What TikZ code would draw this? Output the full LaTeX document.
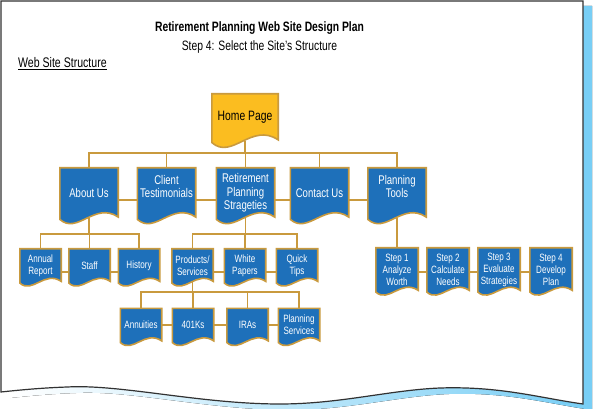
\documentclass[tikz,border=0pt]{standalone}
\usepackage{fontspec}
\setmainfont{Liberation Sans}[FakeStretch=0.76]
\usetikzlibrary{calc,backgrounds}

\definecolor{boxblue}{RGB}{30,112,186}
\definecolor{boxgold}{RGB}{201,154,62}
\definecolor{homeyellow}{RGB}{251,189,32}
\definecolor{shadeblue}{RGB}{120,206,245}
\definecolor{pageline}{RGB}{50,50,50}

\tikzset{
  link/.style={draw=boxgold, line width=1.6pt},
  box/.style={inner sep=1pt, align=center, text=white, font=\fontsize{10.6}{12}\selectfont},
  homebox/.style={box, text=black, minimum width=66pt, minimum height=47pt, font=\fontsize{13.6}{15}\selectfont},
  bigbox/.style={box, minimum width=58pt, minimum height=50pt, font=\fontsize{12.6}{13.5}\selectfont},
  smallbox/.style={box, minimum width=41pt, minimum height=33pt},
  stepbox/.style={box, minimum width=42pt, minimum height=43pt},
  raised/.style={text depth=13pt}
}

% wavy "document" outline round a node
\newcommand{\docshape}[2][boxblue]{%
  \path[draw=boxgold, line width=1.6pt, fill=#1]
    let \p1=(#2.south west), \p2=(#2.north east), \n1={\x2-\x1} in
    (\x1,\y2) -- (\x2,\y2) -- (\x2,\y1+0.02*\n1)
    .. controls (\x1+0.6*\n1,\y1+0.29*\n1) and (\x1+0.3*\n1,\y1-0.29*\n1) .. (\x1,\y1-0.02*\n1)
    -- cycle;}

\begin{document}
\begin{tikzpicture}[x=1pt,y=-1pt]
  \useasboundingbox (0,0) rectangle (595,409);

  \begin{pgfonlayer}{background}
    % page and its shadow
    \fill[left color=white, right color=shadeblue] (10,6) -- (592,6) -- (592,410)
      .. controls (549,404) and (509,392) .. (449,394)
      .. controls (399,396) and (349,410) .. (289,410)
      .. controls (209,410) and (129,390) .. (76,393)
      .. controls (49,394) and (29,396) .. (10,398) -- cycle;
    \fill[shadeblue] (560,6) rectangle (592,404);
    \draw[draw=pageline, line width=1.2pt, fill=white] (1,1) -- (583,1) -- (583,404)
      .. controls (540,398) and (500,386) .. (440,388)
      .. controls (390,390) and (340,404) .. (280,404)
      .. controls (200,404) and (120,384) .. (67,387)
      .. controls (40,388) and (20,390) .. (1,392) -- cycle;
  \end{pgfonlayer}

  \node (title) at (259.5,28.5) {\fontsize{13.6}{15}\selectfont\bfseries Retirement Planning Web Site Design Plan};
  \node (subtitle) at (259.5,47) {\fontsize{13.6}{15}\selectfont Step 4: Select the Site's Structure};
  \node[anchor=west, inner sep=0pt] (heading) at (18,64) {\fontsize{13.9}{15}\selectfont\underline{Web Site Structure}};

  \node[homebox] (home) at (245,117.5) {Home Page};

  \node[bigbox] (about) at (89,193) {About Us};
  \node[bigbox, raised] (client) at (166.5,193) {Client\\Testimonials};
  \node[bigbox] (rps) at (245.5,193) {Retirement\\Planning\\Strageties};
  \node[bigbox] (contact) at (319.5,193) {Contact Us};
  \node[bigbox, raised] (tools) at (397,193) {Planning\\Tools};

  \node[smallbox] (annual) at (40.5,265.5) {Annual\\Report};
  \node[smallbox] (staff) at (89.5,265.5) {Staff};
  \node[smallbox] (history) at (139,265.5) {History};
  \node[smallbox] (products) at (192.5,265.5) {Products/\\Services};
  \node[smallbox] (white) at (245,265.5) {White\\Papers};
  \node[smallbox] (quick) at (297,265.5) {Quick\\Tips};

  \node[smallbox] (annuities) at (141,325) {Annuities};
  \node[smallbox] (k401) at (193,325) {401Ks};
  \node[smallbox] (iras) at (247.5,325) {IRAs};
  \node[smallbox] (plserv) at (299,325) {Planning\\Services};

  \node[stepbox] (step1) at (397,269.5) {Step 1\\Analyze\\Worth};
  \node[stepbox] (step2) at (448,269.5) {Step 2\\Calculate\\Needs};
  \node[stepbox] (step3) at (499,269.5) {Step 3\\Evaluate\\Strategies};
  \node[stepbox] (step4) at (551,269.5) {Step 4\\Develop\\Plan};

  \begin{pgfonlayer}{background}
    \docshape[homeyellow]{home}
    \foreach \k in {about,client,rps,contact,tools,annual,staff,history,products,white,quick,
                    annuities,k401,iras,plserv,step1,step2,step3,step4}
      \docshape{\k};
  \end{pgfonlayer}

  \foreach \k in {about,client,rps,contact,tools}
    \draw[link] (home.south) -- ++(0,12) -| (\k.north);
  \foreach \k in {annual,staff,history}
    \draw[link] (about.south) -- ++(0,16) -| (\k.north);
  \foreach \k in {products,white,quick}
    \draw[link] (rps.south) -- ++(0,16) -| (\k.north);
  \foreach \k in {annuities,k401,iras,plserv}
    \draw[link] (products.south) -- ++(0,10) -| (\k.north);
  \draw[link] (tools.south) -- (step1.north);

  \foreach \a/\b in {about/client,client/rps,rps/contact,contact/tools}
    \draw[link] ([yshift=-7pt]\a.east) -- ([yshift=-7pt]\b.west);
  \foreach \a/\b in {annual/staff,staff/history,products/white,white/quick}
    \draw[link] ([yshift=-6.5pt]\a.east) -- ([yshift=-6.5pt]\b.west);
  \foreach \a/\b in {step1/step2,step2/step3,step3/step4}
    \draw[link] ([yshift=-2.5pt]\a.east) -- ([yshift=-2.5pt]\b.west);
  \foreach \a/\b in {annuities/k401,k401/iras,iras/plserv}
    \draw[link] (\a.east) -- (\b.west);
\end{tikzpicture}
\end{document}
